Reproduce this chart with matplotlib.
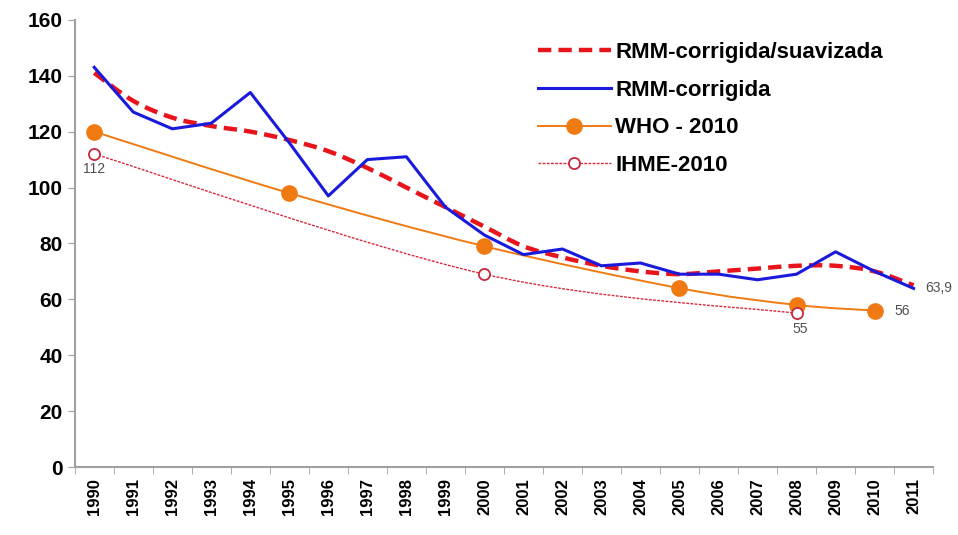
#!/usr/bin/env python
import numpy as np
from matplotlib import pyplot as plt
from matplotlib.path import Path
from matplotlib.patches import PathPatch
from matplotlib.lines import Line2D

YEARS = list(range(1990, 2012))
RMM_SMOOTH = [141, 131, 125, 122, 120, 117, 113, 107, 100, 93, 86, 79,
              75, 72, 70, 69, 70, 71, 72, 72, 70, 65]
RMM = [143, 127, 121, 123, 134, 116, 97, 110, 111, 93, 83, 76,
       78, 72, 73, 69, 69, 67, 69, 77, 70, 63.9]
WHO_YEARS = [1990, 1995, 2000, 2005, 2008, 2010]
WHO = [120, 98, 79, 64, 58, 56]
IHME_YEARS = [1990, 2000, 2008]
IHME = [112, 69, 55]

FONT = 'Liberation Sans'


def idx(years):
    return [YEARS.index(y) for y in years]


def smooth_path(xs, ys):
    # excel-like smoothed line: catmull-rom segments as cubic beziers
    p = np.column_stack([xs, ys]).astype(float)
    verts = [p[0]]
    codes = [Path.MOVETO]
    n = len(p)
    for i in range(n - 1):
        p0 = p[i - 1] if i > 0 else p[i]
        p3 = p[i + 2] if i + 2 < n else p[i + 1]
        c1 = p[i] + (p[i + 1] - p0) / 6
        c2 = p[i + 1] - (p3 - p[i]) / 6
        verts += [c1, c2, p[i + 1]]
        codes += [Path.CURVE4] * 3
    return Path(verts, codes)


def main():
    fig = plt.figure(figsize=(9.58, 5.35), dpi=100)
    ax = fig.add_axes([0.078, 0.127, 0.896, 0.836])
    x = np.arange(len(YEARS))

    red = dict(color='#e8141c', lw=3.2, dashes=(3, 1.6))
    blue = dict(color='#1a1adc', lw=2.2)
    orange = dict(color='#f07a12', lw=1.4)
    pink = dict(color='#d8283c', lw=1.0, dashes=(2, 1))

    ax.add_patch(PathPatch(smooth_path(x, RMM_SMOOTH), fill=False, ec=red['color'],
                           lw=red['lw'], ls=(0, red['dashes']), zorder=3))
    ax.plot(x, RMM, zorder=4, **blue)
    ax.add_patch(PathPatch(smooth_path(idx(WHO_YEARS), WHO), fill=False,
                           ec=orange['color'], lw=orange['lw'], zorder=2))
    ax.plot(idx(WHO_YEARS), WHO, ls='none', marker='o', ms=11, color=orange['color'], zorder=2)
    ax.add_patch(PathPatch(smooth_path(idx(IHME_YEARS), IHME), fill=False,
                           ec=pink['color'], lw=pink['lw'], ls=(0, pink['dashes']), zorder=2))
    ax.plot(idx(IHME_YEARS), IHME, ls='none', marker='o', ms=8, mfc='white',
            mec='#c8283c', mew=1.3, zorder=2)

    lab = dict(fontsize=10, color='#505050', family=FONT)
    ax.text(0, IHME[0] - 3, '112', ha='center', va='top', **lab)
    ax.text(YEARS.index(2008) + 0.1, IHME[-1] - 3, '55', ha='center', va='top', **lab)
    ax.text(YEARS.index(2010) + 0.5, WHO[-1], '56', ha='left', va='center', **lab)
    ax.text(len(YEARS) - 1 + 0.3, RMM[-1], '63,9', ha='left', va='center', **lab)

    ax.set_xlim(-0.5, len(YEARS) - 0.5)
    ax.set_ylim(0, 160)
    ax.set_yticks(range(0, 161, 20))
    ax.set_xticks(x)
    ax.set_xticklabels([str(y) for y in YEARS], rotation=90)
    ax.set_xticks(np.arange(-0.5, len(YEARS), 1), minor=True)
    ax.tick_params(axis='x', which='major', length=0, pad=8)
    ax.tick_params(axis='x', which='minor', length=5, color='#a0a0a0', direction='out')
    ax.tick_params(axis='y', length=5, color='#a0a0a0', direction='out')
    for t in ax.get_xticklabels():
        t.set_fontsize(12)
        t.set_fontweight('bold')
        t.set_family(FONT)
    for t in ax.get_yticklabels():
        t.set_fontsize(15)
        t.set_fontweight('bold')
        t.set_family(FONT)
    for s in ('top', 'right'):
        ax.spines[s].set_visible(False)
    for s in ('left', 'bottom'):
        ax.spines[s].set_color('#a0a0a0')
        ax.spines[s].set_linewidth(1.5)

    handles = [
        Line2D([], [], **red),
        Line2D([], [], **blue),
        Line2D([], [], marker='o', ms=11, **orange),
        Line2D([], [], marker='o', ms=8, mfc='white', mec='#c8283c', mew=1.3, **pink),
    ]
    labels = ['RMM-corrigida/suavizada', 'RMM-corrigida', 'WHO - 2010', 'IHME-2010']
    ax.legend(handles, labels, loc='upper right', bbox_to_anchor=(0.965, 0.995), frameon=False,
              prop={'family': FONT, 'weight': 'bold', 'size': 16},
              handlelength=3.3, handletextpad=0.2, labelspacing=0.75)

    fig.savefig('out.png', dpi=100)


if __name__ == '__main__':
    main()
